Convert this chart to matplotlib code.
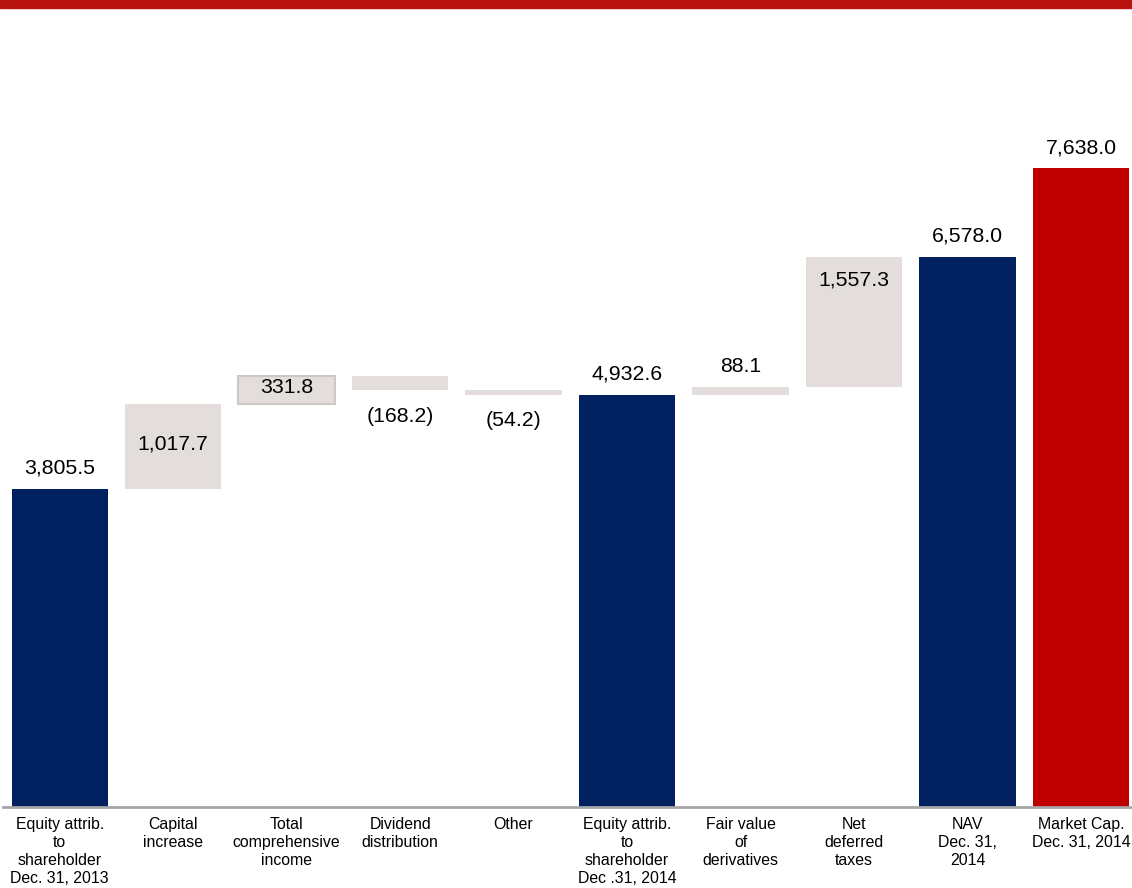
import matplotlib.pyplot as plt
from matplotlib.patches import Rectangle

plt.rcParams['font.family'] = ['Liberation Sans', 'DejaVu Sans']

categories = ["Equity attrib.\nto\nshareholder\nDec. 31, 2013", "Capital\nincrease",
              "Total\ncomprehensive\nincome", "Dividend\ndistribution", "Other",
              "Equity attrib.\nto\nshareholder\nDec .31, 2014", "Fair value\nof\nderivatives",
              "Net\ndeferred\ntaxes", "NAV\nDec. 31,\n2014", "Market Cap.\nDec. 31, 2014"]
values = [3805.5, 1017.7, 331.8, -168.2, -54.2, 4932.6, 88.1, 1557.3, 6578.0, 7638.0]
is_total = [True, False, False, False, False, True, False, False, True, True]
labels = ["3,805.5", "1,017.7", "331.8", "(168.2)", "(54.2)", "4,932.6", "88.1", "1,557.3", "6,578.0", "7,638.0"]

navy = "#002060"
red = "#C00000"
grey = "#E3DEDC"

fig = plt.figure(figsize=(11.32, 8.88), dpi=100)
# red band along the top
fig.patches.append(Rectangle((0, 1 - 8 / 888), 1, 8 / 888, transform=fig.transFigure,
                             color="#B8130F", zorder=0))

ax = fig.add_axes([3 / 1132, 81 / 888, 1129 / 1132, 807 / 888])
ax.set_xlim(-0.5, 9.45)
ax.set_ylim(0, 9653)

fs = 15.3
running = 0
for i, v in enumerate(values):
    if is_total[i]:
        bottom, height = 0, v
        running = v
        color = red if i == len(values) - 1 else navy
        edge = "none"
    else:
        bottom = running if v > 0 else running + v
        height = abs(v)
        running += v
        color = grey
        edge = "#CDC8C6" if i == 2 else "none"
    ax.bar(i, height, bottom=bottom, width=0.85, color=color, edgecolor=edge,
           linewidth=1.5 if edge != "none" else 0)

    top = bottom + height
    if is_total[i] or (v > 0 and height < 200):
        ax.annotate(labels[i], (i, top), xytext=(0, 8), textcoords="offset points",
                    ha="center", va="bottom", fontsize=fs)
    elif v < 0:
        ax.annotate(labels[i], (i, bottom), xytext=(0, -12), textcoords="offset points",
                    ha="center", va="top", fontsize=fs)
    elif height > 1200:
        ax.annotate(labels[i], (i, top), xytext=(0, -10), textcoords="offset points",
                    ha="center", va="top", fontsize=fs)
    else:
        ax.text(i, bottom + height / 2 + 30, labels[i], ha="center", va="center", fontsize=fs)

ax.set_xticks(range(len(categories)))
ax.set_xticklabels(categories, fontsize=11.4, linespacing=1.25)
ax.tick_params(axis="x", length=0, pad=7)
ax.set_yticks([])
for s in ["top", "right", "left"]:
    ax.spines[s].set_visible(False)
ax.spines["bottom"].set_color("#A6A6A6")
ax.spines["bottom"].set_linewidth(2)

fig.savefig("out.png", dpi=100)
